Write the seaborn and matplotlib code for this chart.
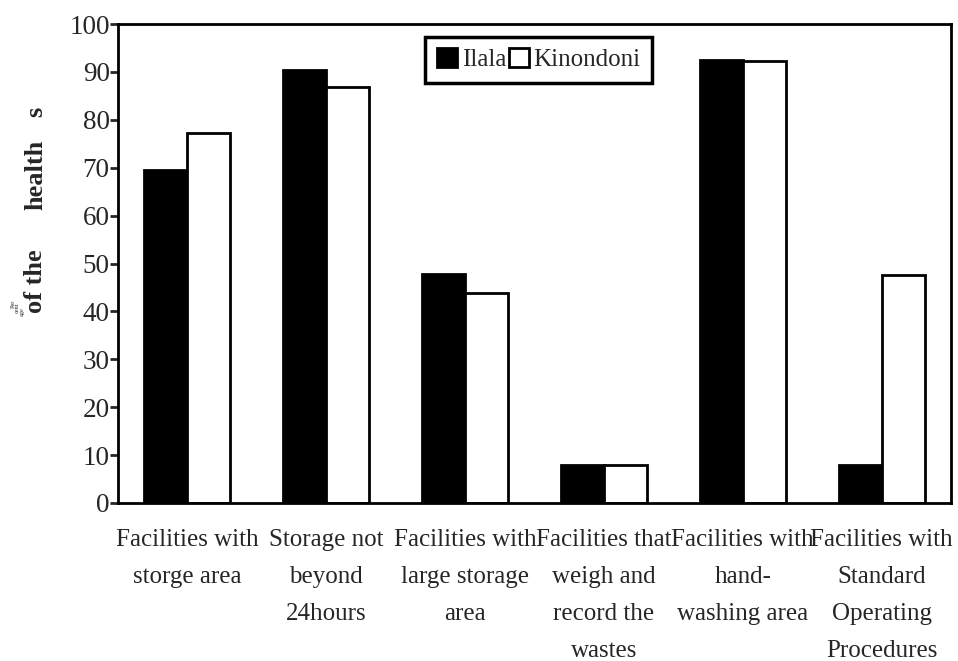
import pandas as pd
import seaborn as sns
import matplotlib.pyplot as plt

# data
categories = [
    "Facilities with\nstorge area",
    "Storage not\nbeyond\n24hours",
    "Facilities with\nlarge storage\narea",
    "Facilities that\nweigh and\nrecord the\nwastes",
    "Facilities with\nhand-\nwashing area",
    "Facilities with\nStandard\nOperating\nProcedures",
]
ilala = [69.5, 90.4, 47.8, 8, 92.5, 8]
kinondoni = [77.2, 86.8, 43.8, 8, 92.3, 47.6]
districts = ["Ilala", "Kinondoni"]
yticks = list(range(0, 101, 10))

df = pd.DataFrame({
    "category": categories * 2,
    "value": ilala + kinondoni,
    "district": [districts[0]] * 6 + [districts[1]] * 6,
})

sns.set_style("ticks")
plt.rcParams["font.family"] = ["Liberation Serif", "DejaVu Serif"]

fig = plt.figure(figsize=(9.58, 6.61), dpi=100)
ax = fig.add_axes([118 / 958, 1 - 503 / 661, 833 / 958, 479 / 661])

sns.barplot(
    data=df, x="category", y="value", hue="district",
    palette=["black", "white"], width=0.62, saturation=1,
    edgecolor="black", linewidth=2, ax=ax,
)

ax.set_ylim(0, 100)
ax.set_yticks(yticks)
ax.set_yticklabels([str(v) for v in yticks], fontsize=19.5)
ax.set_xticks(range(len(categories)))
ax.set_xticklabels(categories, fontsize=18, linespacing=1.87)
ax.tick_params(axis="x", length=0, pad=19)
ax.tick_params(axis="y", length=6, width=2, pad=0, direction="out")
ax.set_xlabel("")
ax.set_ylabel("")
for s in ax.spines.values():
    s.set_linewidth(2)
    s.set_color("black")
    s.set_visible(True)

handles, labels = ax.get_legend_handles_labels()
ax.legend(
    handles, labels, ncol=2, loc="upper center",
    bbox_to_anchor=(0.505, 0.973), fontsize=18, frameon=True,
    fancybox=False, edgecolor="black", framealpha=1,
    handlelength=0.8, handleheight=0.8, handletextpad=0.2,
    columnspacing=0.1, borderpad=0.45, borderaxespad=0,
).get_frame().set_linewidth(2.5)

# broken y label as in the original
fig.text(42 / 958, 1 - 281 / 661, "of the", rotation=90, rotation_mode="anchor",
         ha="center", va="baseline", fontsize=19, fontweight="bold")
fig.text(42 / 958, 1 - 175 / 661, "health", rotation=90, rotation_mode="anchor",
         ha="center", va="baseline", fontsize=19, fontweight="bold")
fig.text(42 / 958, 1 - 112 / 661, "s", rotation=90, rotation_mode="anchor",
         ha="center", va="baseline", fontsize=19, fontweight="bold")
for word, xp, yp in [("Per", 15, 304), ("cent", 19, 308), ("age", 24, 312)]:
    fig.text(xp / 958, 1 - yp / 661, word, rotation=90, rotation_mode="anchor",
             ha="center", va="baseline", fontsize=4.5)

fig.savefig("out.png", dpi=100)
